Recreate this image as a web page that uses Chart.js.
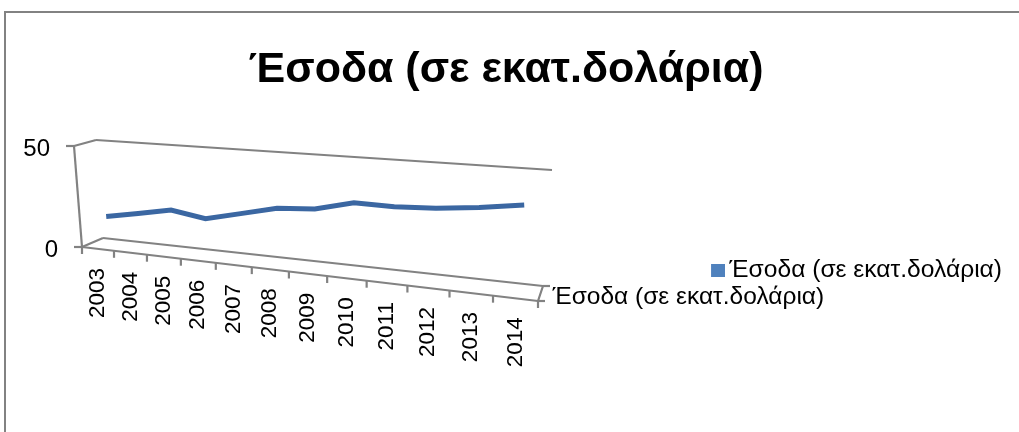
<!DOCTYPE html>
<html><head><meta charset="utf-8">
<script src="https://cdn.jsdelivr.net/npm/chart.js@4.4.0/dist/chart.umd.min.js"></script>
<style>html,body{margin:0;padding:0;background:#fff;}canvas{display:block;}</style>
</head><body>
<canvas id="c" width="1019" height="432"></canvas>
<script>
// ---- data ----
const categories = ['2003','2004','2005','2006','2007','2008','2009','2010','2011','2012','2013','2014'];
const revenue = [13.9, 16.9, 20.2, 17.7, 21.7, 25.8, 27.0, 31.4, 31.2, 32.1, 34.1, 36.7];
const valueTicks = [0, 50];
const seriesName = 'Έσοδα (σε εκατ.δολάρια)';
const chartTitle = 'Έσοδα (σε εκατ.δολάρια)';

// ---- 3D view (layout only: box corners relative to chart area origin) ----
const view = {
  FLT:[74,36], FLB:[82,137], BLT:[96,30], BLB:[103,128],
  FRT:[547,71], FRB:[538,191], BRT:[552,60], BRB:[543,176],
  persp:1.204, depth:0.5
};
const FONT = "'Liberation Sans', Arial, sans-serif";
const GRID = '#828282';
const LEGEND_BLUE = '#4f81bd';

// legend marker: 14x13 square drawn at the right part of a 20px wide canvas
const marker = document.createElement('canvas');
marker.width = 20; marker.height = 13;
(function(){const m=marker.getContext('2d'); m.fillStyle=LEGEND_BLUE; m.fillRect(6,0,14,13);})();

function lerp(a,b,s){return [a[0]+(b[0]-a[0])*s, a[1]+(b[1]-a[1])*s];}
function project(chart,u,t,w){
  const ca=chart.chartArea, k=view.persp;
  const f=u/(k-(k-1)*u);
  const bot=lerp(lerp(view.FLB,view.FRB,f), lerp(view.BLB,view.BRB,f), w);
  const top=lerp(lerp(view.FLT,view.FRT,f), lerp(view.BLT,view.BRT,f), w);
  const p=lerp(bot,top,t);
  return {x:ca.left+p[0], y:ca.top+p[1]};
}
function uOf(chart,px){const xs=chart.scales.x;return (px-xs.left)/(xs.right-xs.left);}
function tOf(chart,py){const ys=chart.scales.y;return (ys.bottom-py)/(ys.bottom-ys.top);}

const frame3d = {
  id:'frame3d',
  beforeDraw(chart){
    const ctx=chart.ctx;
    ctx.save();
    ctx.strokeStyle=GRID; ctx.lineWidth=2;
    ctx.strokeRect(5,12,chart.width+20,chart.height+20);
    ctx.restore();
  },
  afterDatasetsUpdate(chart){
    const meta=chart.getDatasetMeta(0);
    meta.data.forEach(pt=>{
      const p=project(chart,uOf(chart,pt.x),tOf(chart,pt.y),view.depth);
      pt.x=p.x; pt.y=p.y;
    });
    if(meta.dataset){ meta.dataset._path=undefined; }
  },
  beforeDatasetsDraw(chart){
    const ctx=chart.ctx, xs=chart.scales.x, ys=chart.scales.y;
    const P=(u,t,w)=>project(chart,u,t,w);
    const line=(a,b)=>{ctx.beginPath();ctx.moveTo(a.x,a.y);ctx.lineTo(b.x,b.y);ctx.stroke();};
    ctx.save();
    ctx.strokeStyle=GRID; ctx.lineWidth=2.2; ctx.lineCap='butt';
    valueTicks.forEach(v=>{
      const t=tOf(chart,ys.getPixelForValue(v));
      line(P(0,t,0),P(0,t,1));
      line(P(0,t,1),P(1,t,1));
      const a=P(0,t,0); line({x:a.x-8,y:a.y},a);
    });
    line(P(0,0,0),P(0,1,0));
    line(P(0,0,0),P(1,0,0));
    line(P(1,0,0),P(1,0,1));
    const half=(xs.getPixelForValue(1)-xs.getPixelForValue(0))/2;
    for(let i=0;i<=categories.length;i++){
      const px=(i<categories.length?xs.getPixelForValue(i)-half:xs.getPixelForValue(i-1)+half);
      const a=P(uOf(chart,px),0,0);
      line(a,{x:a.x,y:a.y+7});
    }
    [0,1].forEach(w=>{const a=P(1,0,w); line(a,{x:a.x+7,y:a.y});});
    ctx.fillStyle='#000';
    ctx.font="24px "+FONT;
    ctx.textAlign='right'; ctx.textBaseline='middle';
    valueTicks.forEach(v=>{
      const a=P(0,tOf(chart,ys.getPixelForValue(v)),0);
      ctx.fillText(String(v),a.x-24,a.y+3);
    });
    ctx.font="22.5px "+FONT;
    categories.forEach((c,i)=>{
      const a=P(uOf(chart,xs.getPixelForValue(i)),0,0);
      ctx.save(); ctx.translate(a.x,a.y+19); ctx.rotate(-Math.PI/2);
      ctx.textAlign='right'; ctx.textBaseline='middle';
      ctx.fillText(c,0,0); ctx.restore();
    });
    const d1=P(1,0,0), d2=P(1,0,1);
    ctx.textAlign='left';
    ctx.font="24.5px "+FONT;
    ctx.fillText(seriesName,(d1.x+d2.x)/2+12,(d1.y+d2.y)/2+3.5);
    ctx.restore();
  }
};

new Chart(document.getElementById('c'),{
  type:'line',
  data:{labels:categories,datasets:[{
    label:seriesName,data:revenue,
    borderColor:'#3b67a2',backgroundColor:LEGEND_BLUE,borderWidth:5,
    pointRadius:0,tension:0,clip:false
  }]},
  options:{
    responsive:false,animation:false,devicePixelRatio:1,
    layout:{padding:{left:0,top:0,right:7,bottom:2}},
    scales:{
      x:{display:false,offset:true},
      y:{display:false,min:0,max:50}
    },
    plugins:{
      tooltip:{enabled:false},
      title:{display:true,text:chartTitle,color:'#000',
        font:{family:FONT,size:43,weight:'bold'},padding:{top:44,bottom:14.4}},
      legend:{position:'right',fullSize:false,align:'center',
        labels:{usePointStyle:true,pointStyleWidth:4,boxHeight:13,color:'#000',padding:10,
          font:{family:FONT,size:24.6},
          generateLabels(chart){
            return Chart.defaults.plugins.legend.labels.generateLabels(chart).map(l=>Object.assign(l,{lineWidth:0,pointStyle:marker,fillStyle:LEGEND_BLUE,strokeStyle:LEGEND_BLUE}));
          }}}
    }
  },
  plugins:[frame3d]
});
</script>
</body></html>
